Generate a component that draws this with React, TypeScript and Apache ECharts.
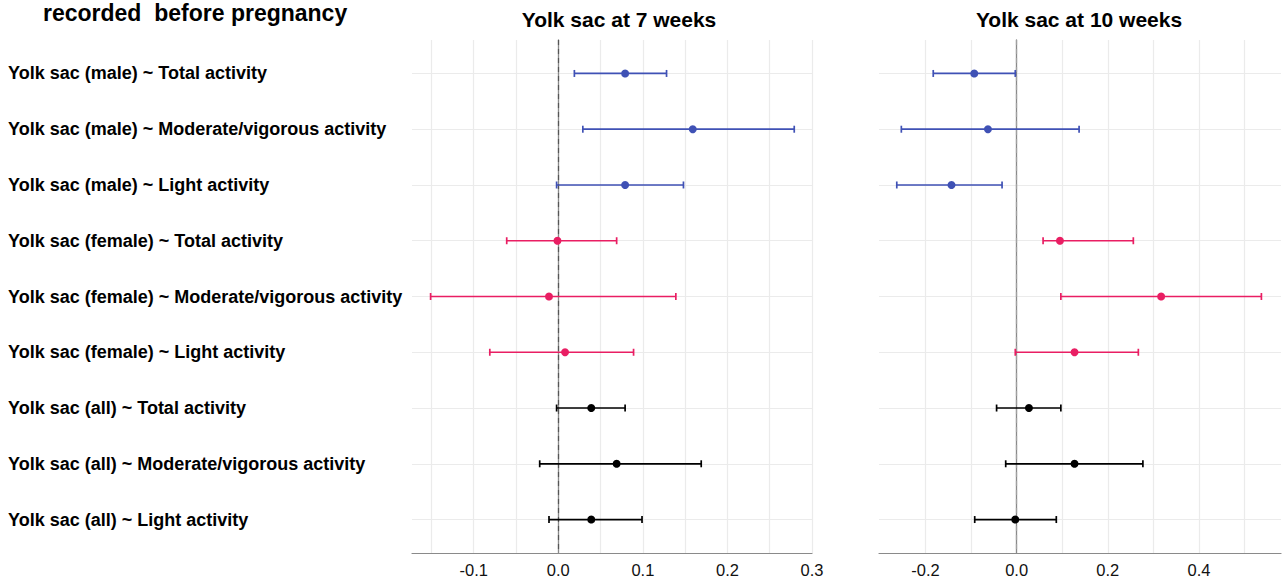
import React, { useEffect, useRef } from "react";
import * as echarts from "echarts";

const categories = [
  "Yolk sac (male) ~ Total activity",
  "Yolk sac (male) ~ Moderate/vigorous activity",
  "Yolk sac (male) ~ Light activity",
  "Yolk sac (female) ~ Total activity",
  "Yolk sac (female) ~ Moderate/vigorous activity",
  "Yolk sac (female) ~ Light activity",
  "Yolk sac (all) ~ Total activity",
  "Yolk sac (all) ~ Moderate/vigorous activity",
  "Yolk sac (all) ~ Light activity",
];
const groups = ["male", "male", "male", "female", "female", "female", "all", "all", "all"];

const est7 = [0.079, 0.159, 0.079, -0.001, -0.011, 0.008, 0.039, 0.069, 0.039];
const low7 = [0.019, 0.029, -0.002, -0.061, -0.151, -0.081, -0.002, -0.022, -0.011];
const high7 = [0.128, 0.279, 0.148, 0.069, 0.139, 0.089, 0.079, 0.169, 0.099];

const est10 = [-0.093, -0.063, -0.143, 0.095, 0.317, 0.127, 0.027, 0.127, -0.003];
const low10 = [-0.183, -0.253, -0.263, 0.058, 0.097, -0.003, -0.044, -0.024, -0.092];
const high10 = [-0.003, 0.137, -0.032, 0.256, 0.537, 0.267, 0.097, 0.277, 0.087];

const ticks7 = [-0.1, 0, 0.1, 0.2, 0.3];
const grid7 = [-0.15, -0.1, -0.05, 0, 0.05, 0.1, 0.15, 0.2, 0.25, 0.3];
const ticks10 = [-0.2, 0, 0.2, 0.4];
const grid10 = [-0.2, -0.1, 0, 0.1, 0.2, 0.3, 0.4, 0.5];

const panelTitles = ["Yolk sac at 7 weeks", "Yolk sac at 10 weeks"];
const headerText = "recorded  before pregnancy";

const groupColors: Record<string, string> = {
  male: "#3F51B5",
  female: "#E91E63",
  all: "#000000",
};

const FONT = "'Liberation Sans', Arial, Helvetica, sans-serif";
const rows = categories.map((_, i) => i);

function buildSeries(idx: number, est: number[], low: number[], high: number[], zeroColor: string) {
  const barData = rows.map((r) => ({
    value: [low[r], high[r], r],
    itemStyle: { color: groupColors[groups[r]] },
  }));
  const ptData = rows.map((r) => ({
    value: [est[r], r],
    itemStyle: { color: groupColors[groups[r]], opacity: 1 },
  }));
  return [
    {
      type: "custom",
      xAxisIndex: idx,
      yAxisIndex: idx,
      encode: { x: [0, 1], y: 2 },
      data: barData,
      silent: true,
      renderItem: (params: any, api: any) => {
        const lo = api.value(0);
        const hi = api.value(1);
        const r = api.value(2);
        const a = api.coord([lo, r]);
        const b = api.coord([hi, r]);
        const color = api.visual("color");
        const st = { stroke: color, lineWidth: 1.7 };
        return {
          type: "group",
          children: [
            { type: "line", shape: { x1: a[0], y1: a[1], x2: b[0], y2: b[1] }, style: st },
            { type: "line", shape: { x1: a[0], y1: a[1] - 3.5, x2: a[0], y2: a[1] + 3.5 }, style: st },
            { type: "line", shape: { x1: b[0], y1: b[1] - 3.5, x2: b[0], y2: b[1] + 3.5 }, style: st },
          ],
        };
      },
      z: 3,
    },
    {
      type: "scatter",
      xAxisIndex: idx,
      yAxisIndex: idx,
      symbol: "circle",
      symbolSize: 8,
      itemStyle: { opacity: 1 },
      data: ptData,
      silent: true,
      z: 4,
      markLine: {
        silent: true,
        symbol: ["none", "none"],
        label: { show: false },
        lineStyle: { type: [5, 4], color: zeroColor, width: 1.2, opacity: 1 },
        data: [{ xAxis: 0 }],
        z: 2,
      },
    },
  ];
}

export default function App() {
  const ref = useRef<HTMLDivElement>(null);
  useEffect(() => {
    if (!ref.current) return;
    const chart = echarts.init(ref.current, undefined, { renderer: "svg" });
    const gridTop = 40;
    const gridH = 513;
    const yAxisBase = (showLabels: boolean) => ({
      type: "value",
      min: -0.6,
      max: 8.6,
      inverse: true,
      axisLine: { show: true, lineStyle: { color: "#8a8a8a", width: 1.3 } },
      axisTick: { show: false, customValues: rows },
      axisLabel: {
        show: showLabels,
        customValues: rows,
        formatter: (v: number) => categories[Math.round(v)] ?? "",
        align: "left",
        margin: 404,
        fontFamily: FONT,
        fontWeight: "bold",
        fontSize: 18,
        color: "#000",
      },
      splitLine: { show: true, lineStyle: { color: "#ebebeb", width: 1.2 } },
    });
    const xAxisBase = (min: number, max: number, labels: number[], lines: number[]) => ({
      type: "value",
      min,
      max,
      axisLine: { show: true, onZero: false, lineStyle: { color: "#8a8a8a", width: 1.2 } },
      axisTick: { show: false, customValues: lines },
      axisLabel: {
        customValues: labels,
        formatter: (v: number) => v.toFixed(1),
        fontFamily: FONT,
        fontSize: 16.5,
        color: "#111",
        margin: 8,
      },
      splitLine: { show: true, lineStyle: { color: "#ebebeb", width: 1.2 } },
    });
    chart.setOption({
      animation: false,
      backgroundColor: "#ffffff",
      grid: [
        { left: 412, top: gridTop, width: 400, height: gridH },
        { left: 879, top: gridTop, width: 402, height: gridH },
      ],
      xAxis: [
        { ...xAxisBase(-0.173, 0.3, ticks7, grid7), gridIndex: 0 },
        { ...xAxisBase(-0.302, 0.58, ticks10, grid10), gridIndex: 1 },
      ],
      yAxis: [
        { ...yAxisBase(true), gridIndex: 0 },
        { ...yAxisBase(false), gridIndex: 1 },
      ],
      graphic: [
        {
          type: "text",
          x: 43,
          y: 13,
          style: {
            text: headerText,
            font: `bold 23px ${FONT}`,
            fill: "#000",
            textAlign: "left",
            textVerticalAlign: "middle",
          },
        },
        {
          type: "text",
          x: 619,
          y: 19.5,
          style: {
            text: panelTitles[0],
            font: `bold 21px ${FONT}`,
            fill: "#000",
            textAlign: "center",
            textVerticalAlign: "middle",
          },
        },
        {
          type: "text",
          x: 1079,
          y: 19.5,
          style: {
            text: panelTitles[1],
            font: `bold 21px ${FONT}`,
            fill: "#000",
            textAlign: "center",
            textVerticalAlign: "middle",
          },
        },
      ],
      series: [
        ...buildSeries(0, est7, low7, high7, "#555555"),
        ...buildSeries(1, est10, low10, high10, "#a0a0a0"),
      ],
    });
    return () => chart.dispose();
  }, []);
  return (
    <div
      ref={ref}
      style={{ position: "fixed", left: 0, top: 0, width: 1288, height: 580, background: "#fff" }}
    />
  );
}
